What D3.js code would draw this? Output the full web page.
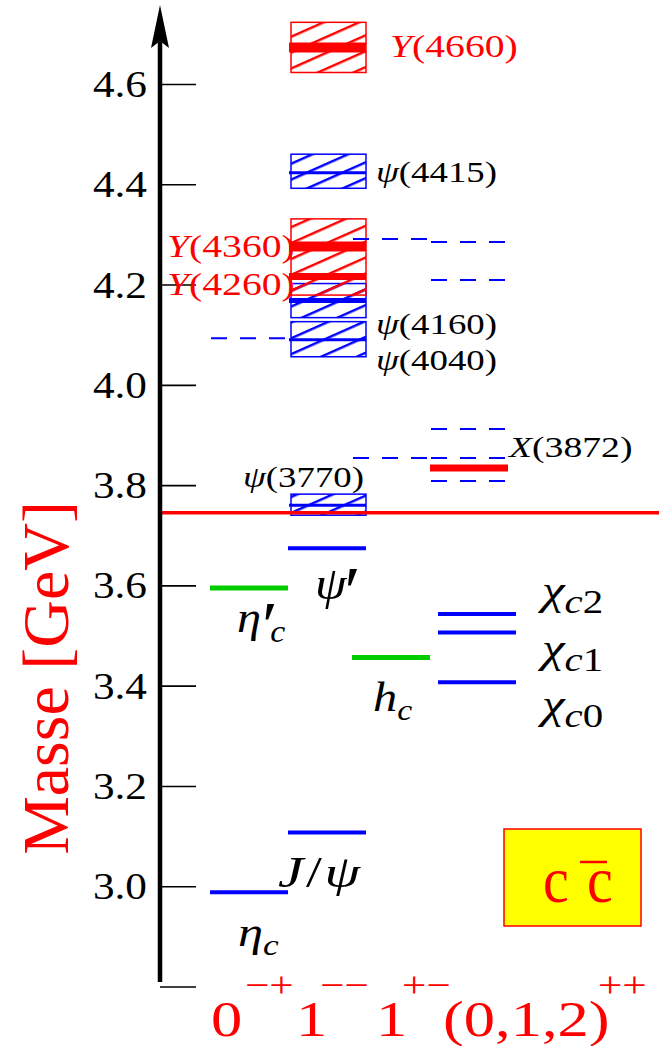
<!DOCTYPE html>
<html><head><meta charset="utf-8">
<script src="https://cdn.jsdelivr.net/npm/d3@7"></script>
</head><body style="margin:0">
<script>
// J^PC families shown along the bottom; "1++" is the slot of the exotic X(3872)
const families = ["0-+", "1--", "1+-", "(0,1,2)++", "1++"];

// narrow levels (GeV)
const levelNames  = ["ηc", "J/ψ", "η′c", "ψ′", "hc", "χc0", "χc1", "χc2", "X(3872)"];
const levelMass   = [2.988, 3.107, 3.595, 3.674, 3.456, 3.407, 3.506, 3.543, 3.834];
const levelFamily = ["0-+", "1--", "0-+", "1--", "1+-", "(0,1,2)++", "(0,1,2)++", "(0,1,2)++", "1++"];
const levelStatus = ["known", "known", "new", "known", "new", "known", "known", "known", "exotic"];

// vector states above open charm: central mass (GeV)
const vectorNames  = ["ψ(3770)", "ψ(4040)", "ψ(4160)", "Y(4260)", "Y(4360)", "ψ(4415)", "Y(4660)"];
const vectorMass   = [3.760, 4.090, 4.168, 4.216, 4.276, 4.423, 4.673];
const vectorStatus = ["known", "known", "known", "exotic", "exotic", "known", "exotic"];

// widths drawn as hatched bands: lower / upper edge (GeV)
const bandLow    = [3.740, 4.056, 4.134, 4.179, 4.392, 4.623];
const bandHigh   = [3.782, 4.126, 4.202, 4.331, 4.460, 4.723];
const bandStatus = ["known", "known", "known", "exotic", "known", "exotic"];

// two-meson thresholds (dashed)
const threshMass   = [4.093, 4.291, 4.285, 4.209, 3.912, 3.854, 3.854, 3.808];
const threshFamily = ["0-+", "1+-", "1++", "1++", "1++", "1+-", "1++", "1++"];

// D Dbar threshold
const ddThreshold = 3.745;

// mass axis
const massTicks = [2.8, 3.0, 3.2, 3.4, 3.6, 3.8, 4.0, 4.2, 4.4, 4.6];
const massTickLabels = ["", "3.0", "3.2", "3.4", "3.6", "3.8", "4.0", "4.2", "4.4", "4.6"];

// J^PC captions
const jpcBase = ["0", "1", "1", "(0,1,2)"];
const jpcSup  = ["−+", "−−", "+−", "++"];

const BLUE = "#0000ff", RED = "#ff0000", GREEN = "#00cc00";
const W = 659, H = 1046;
const FONT = "Liberation Serif";

const svg = d3.select("body").append("svg").attr("width", W).attr("height", H)
  .style("display", "block").attr("font-family", FONT);

const y = d3.scaleLinear().domain([2.8, 4.6]).range([986.5, 84]);
const col = d3.scaleOrdinal().domain(families).range([210, 288, 352, 438, 430]);
const colW = 78;
const statusColor = d3.scaleOrdinal().domain(["known", "new", "exotic"]).range([BLUE, GREEN, RED]);

// hatch patterns
const defs = svg.append("defs");
[["hatch-blue", BLUE], ["hatch-red", RED]].forEach(([id, c]) => {
  const p = defs.append("pattern").attr("id", id).attr("patternUnits", "userSpaceOnUse")
    .attr("width", 40).attr("height", 14.5).attr("patternTransform", "rotate(-24)");
  p.append("line").attr("x1", 0).attr("x2", 40).attr("y1", 7).attr("y2", 7)
    .attr("stroke", c).attr("stroke-width", 2.2);
});

// hatched width bands
svg.append("g").selectAll("rect").data(bandLow).join("rect")
  .attr("x", col("1--") + 3)
  .attr("width", colW - 3)
  .attr("y", (d, i) => y(bandHigh[i]))
  .attr("height", (d, i) => y(d) - y(bandHigh[i]))
  .attr("fill", (d, i) => bandStatus[i] === "exotic" ? "url(#hatch-red)" : "url(#hatch-blue)")
  .attr("stroke", (d, i) => statusColor(bandStatus[i]))
  .attr("stroke-width", 1.5);

// central masses of the vector states
svg.append("g").selectAll("line").data(vectorMass).join("line")
  .attr("x1", col("1--") + 1).attr("x2", col("1--") + colW)
  .attr("y1", d => y(d)).attr("y2", d => y(d))
  .attr("stroke", (d, i) => statusColor(vectorStatus[i]))
  .attr("stroke-width", (d, i) => vectorStatus[i] === "exotic" ? (vectorNames[i] === "Y(4260)" ? 7 : 10) :
        (vectorNames[i] === "ψ(4160)" ? 5 : 3));

// thresholds
svg.append("g").selectAll("line").data(threshMass).join("line")
  .attr("x1", (d, i) => col(threshFamily[i]) + 1).attr("x2", (d, i) => col(threshFamily[i]) + colW - 1)
  .attr("y1", d => y(d)).attr("y2", d => y(d))
  .attr("stroke", BLUE).attr("stroke-width", 2).attr("stroke-dasharray", "16,13");

// narrow levels
svg.append("g").selectAll("line").data(levelMass).join("line")
  .attr("x1", (d, i) => col(levelFamily[i])).attr("x2", (d, i) => col(levelFamily[i]) + colW)
  .attr("y1", d => y(d)).attr("y2", d => y(d))
  .attr("stroke", (d, i) => statusColor(levelStatus[i]))
  .attr("stroke-width", (d, i) => levelStatus[i] === "exotic" ? 7 : levelStatus[i] === "new" ? 5 : 4);

// open-charm threshold
svg.append("line").attr("x1", 160).attr("x2", W)
  .attr("y1", y(ddThreshold)).attr("y2", y(ddThreshold))
  .attr("stroke", RED).attr("stroke-width", 3.5);

// mass axis
const axis = d3.axisLeft(y).tickValues(massTicks)
  .tickFormat((d, i) => massTickLabels[i]).tickSizeInner(-36).tickSizeOuter(0).tickPadding(12);
const ax = svg.append("g").attr("transform", "translate(160,0)").call(axis);
ax.attr("font-family", FONT).attr("font-size", 37);
ax.select(".domain").remove();
ax.selectAll(".tick line").attr("stroke", "#000").attr("stroke-width", 1.6);
ax.selectAll(".tick text")
  .attr("fill", "#000")
  .attr("x", null).attr("dy", "0.34em")
  .attr("transform", "translate(-13,0) scale(1.17,1)");

svg.append("line").attr("x1", 160).attr("x2", 160).attr("y1", 40).attr("y2", 982)
  .attr("stroke", "#000").attr("stroke-width", 4.5);
svg.append("path").attr("d", "M160,5 L169,48 L160,41 L151,48 Z").attr("fill", "#000");

svg.append("text")
  .attr("transform", `translate(68,${678}) rotate(-90)`)
  .attr("text-anchor", "middle").attr("font-size", 66)
  .attr("fill", RED).text("Masse [GeV]");

// math-style labels: italic symbols, upright digits, sub/superscripts and primes
function mathLabel(x, yy, parts, size, color, sx, subScale) {
  const t = svg.append("text")
    .attr("transform", `translate(${x},${yy}) scale(${sx},1)`)
    .attr("font-size", size).attr("fill", color);
  let shift = 0;
  parts.forEach(p => {
    const s = p.sub ? size * (subScale || 0.7) : p.prime ? size * 1.5 : size;
    const target = p.sub ? size * 0.22 : p.prime ? size * 0.34 : 0;
    const ts = t.append("tspan").attr("font-size", s).attr("dy", target - shift).text(p.t);
    if (p.dx) ts.attr("dx", p.dx);
    if (p.i) ts.attr("font-style", "italic");
    shift = target;
  });
  return t;
}
const K = "#000";
const labels = [
  { parts: [{ t: "ψ", i: 1 }, { t: "(4415)" }], mass: 4.423, fam: "1--", dx: 88, dy: 9.5, size: 29, sx: 1.27, color: K },
  { parts: [{ t: "ψ", i: 1 }, { t: "(4160)" }], mass: 4.168, fam: "1--", dx: 88, dy: 33, size: 29, sx: 1.27, color: K },
  { parts: [{ t: "ψ", i: 1 }, { t: "(4040)" }], mass: 4.090, fam: "1--", dx: 88, dy: 30, size: 29, sx: 1.27, color: K },
  { parts: [{ t: "ψ", i: 1 }, { t: "(3770)" }], mass: 3.760, fam: "1--", dx: -45, dy: -18, size: 29, sx: 1.27, color: K },
  { parts: [{ t: "X", i: 1 }, { t: "(3872)" }], mass: 3.834, fam: "1++", dx: 79, dy: -11, size: 29, sx: 1.3, color: K },
  { parts: [{ t: "Y", i: 1 }, { t: "(4660)" }], mass: 4.673, fam: "1--", dx: 102, dy: 10, size: 32, sx: 1.24, color: RED },
  { parts: [{ t: "Y", i: 1 }, { t: "(4360)" }], mass: 4.276, fam: "1--", dx: -121, dy: 10.5, size: 32, sx: 1.24, color: RED },
  { parts: [{ t: "Y", i: 1 }, { t: "(4260)" }], mass: 4.216, fam: "1--", dx: -121, dy: 18.5, size: 32, sx: 1.24, color: RED },
  { parts: [{ t: "ψ", i: 1 }, { t: "′", prime: 1, dx: -2 }], mass: 3.674, fam: "1--", dx: 27, dy: 51, size: 46, sx: 1.1, color: K },
  { parts: [{ t: "η", i: 1 }, { t: "′", prime: 1, dx: 1 }, { t: "c", i: 1, sub: 1, dx: -7 }], mass: 3.595, fam: "0-+", dx: 27, dy: 44, size: 44, sx: 1.1, color: K },
  { parts: [{ t: "h", i: 1 }, { t: "c", i: 1, sub: 1 }], mass: 3.456, fam: "1+-", dx: 21, dy: 53, size: 42, sx: 1.15, color: K },
  { parts: [{ t: "χ", i: 1 }, { t: "c", sub: 1, i: 1 }, { t: "2", sub: 1 }], mass: 3.543, fam: "(0,1,2)++", dx: 104, dy: -10, size: 42, sx: 1.22, sub: 0.8, color: K },
  { parts: [{ t: "χ", i: 1 }, { t: "c", sub: 1, i: 1 }, { t: "1", sub: 1 }], mass: 3.506, fam: "(0,1,2)++", dx: 104, dy: 29, size: 42, sx: 1.22, sub: 0.8, color: K },
  { parts: [{ t: "χ", i: 1 }, { t: "c", sub: 1, i: 1 }, { t: "0", sub: 1 }], mass: 3.407, fam: "(0,1,2)++", dx: 104, dy: 36, size: 42, sx: 1.22, sub: 0.8, color: K },
  { parts: [{ t: "J", i: 1 }, { t: "/", dx: 2 }, { t: "ψ", i: 1, dx: 2 }], mass: 3.107, fam: "1--", dx: -10, dy: 54, size: 44, sx: 1.3, color: K },
  { parts: [{ t: "η", i: 1 }, { t: "c", i: 1, sub: 1 }], mass: 2.988, fam: "0-+", dx: 28, dy: 54, size: 42, sx: 1.2, color: K },
];
labels.forEach(l => mathLabel(col(l.fam) + l.dx, y(l.mass) + l.dy, l.parts, l.size, l.color, l.sx, l.sub));

// J^PC captions along the bottom
const jpcX = [211, 296, 376, 443];
const jpcSupX = [245, 320, 402, 598];
jpcBase.forEach((b, i) => {
  svg.append("text").attr("transform", `translate(${jpcX[i]},1036) scale(1.25,1)`)
    .attr("font-size", 50).attr("fill", RED).text(b);
  svg.append("text").attr("transform", `translate(${jpcSupX[i]},997) scale(1.2,1)`)
    .attr("font-size", 36).attr("fill", RED).text(jpcSup[i]);
});

// c cbar box
svg.append("rect").attr("x", 504).attr("y", 829).attr("width", 137).attr("height", 97)
  .attr("fill", "#ffff00").attr("stroke", RED).attr("stroke-width", 1.5);
svg.append("text").attr("transform", "translate(543,902) scale(0.88,1)").attr("font-size", 66).attr("fill", RED).text("c");
svg.append("text").attr("transform", "translate(587,902) scale(0.88,1)").attr("font-size", 66).attr("fill", RED).text("c");
svg.append("line").attr("x1", 580).attr("x2", 607).attr("y1", 862).attr("y2", 862)
  .attr("stroke", RED).attr("stroke-width", 2.5);
</script>
</body></html>
